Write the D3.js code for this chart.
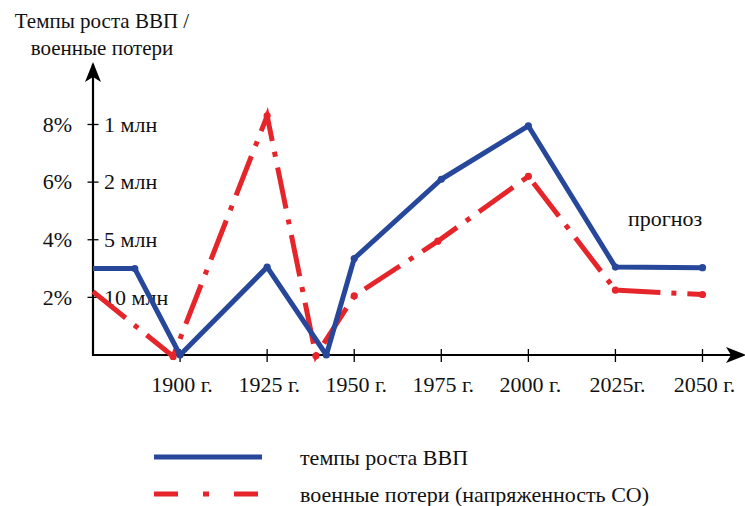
<!DOCTYPE html>
<html>
<head>
<meta charset="utf-8">
<script src="https://cdn.jsdelivr.net/npm/d3@7"></script>
<style>
  html, body { margin: 0; padding: 0; background: #fff; }
  svg { display: block; }
  text { font-family: "Liberation Serif", "Times New Roman", Times, serif; fill: #111; }
</style>
</head>
<body>
<svg id="chart" width="745" height="506"></svg>
<script>
// GDP growth rate, %
const gdpYears  = [1875, 1887, 1900, 1925, 1942, 1950, 1975, 2000, 2025, 2050];
const gdpValues = [3.0, 3.0, 0.0, 3.05, 0.0, 3.35, 6.1, 7.95, 3.05, 3.03];

// War losses (tension of the security system), plotted on the same inverted scale
const lossYears  = [1875, 1898, 1925, 1939, 1950, 1974, 2000, 2025, 2050];
const lossValues = [2.2, -0.05, 8.3, -0.03, 2.05, 3.95, 6.2, 2.25, 2.1];

// Axis ticks and labels
const xTickYears  = [1900, 1925, 1950, 1975, 2000, 2025, 2050];
const xTickLabels = ["1900 г.", "1925 г.", "1950 г.", "1975 г.", "2000 г.", "2025г.", "2050 г."];
const yTickValues = [2, 4, 6, 8];
const gdpTickLabels  = ["2%", "4%", "6%", "8%"];
const lossTickLabels = ["10 млн", "5 млн", "2 млн", "1 млн"];

const titleLines = ["Темпы роста ВВП /", "военные потери"];
const seriesNames = ["темпы роста ВВП", "военные потери (напряженность СО)"];
const forecastNote = "прогноз";

const BLUE = "#27479a";
const RED = "#e6252b";
const FONT = "'Liberation Serif', 'Times New Roman', Times, serif";

const svg = d3.select("#chart");

const x = d3.scaleLinear().domain([1875, 2050]).range([93, 702.5]);
const y = d3.scaleLinear().domain([0, 8]).range([355, 124.5]);

const x0 = x(1875), yBase = y(0);

// Axis arrow heads
svg.append("defs").append("marker")
  .attr("id", "arrow")
  .attr("viewBox", "0 0 20 16")
  .attr("refX", 18).attr("refY", 8)
  .attr("markerWidth", 20).attr("markerHeight", 16)
  .attr("markerUnits", "userSpaceOnUse")
  .attr("orient", "auto")
  .append("path")
  .attr("d", "M0,0 L20,8 L0,16 L5,8 Z")
  .attr("fill", "#000");

// Vertical axis
svg.append("line")
  .attr("x1", x0).attr("y1", yBase + 1)
  .attr("x2", x0).attr("y2", 64)
  .attr("stroke", "#000").attr("stroke-width", 2.2)
  .attr("marker-end", "url(#arrow)");

// Horizontal axis
svg.append("line")
  .attr("x1", x0 - 1).attr("y1", yBase)
  .attr("x2", 744).attr("y2", yBase)
  .attr("stroke", "#000").attr("stroke-width", 2.2)
  .attr("marker-end", "url(#arrow)");

// Y ticks crossing the axis, with both label sets
const yt = svg.append("g").selectAll("g").data(yTickValues).join("g")
  .attr("transform", d => `translate(0,${y(d)})`);
yt.append("line")
  .attr("x1", x0 - 5.5).attr("x2", x0 + 5.5)
  .attr("stroke", "#000").attr("stroke-width", 1.3);
yt.append("text")
  .attr("x", 72).attr("dy", "0.33em")
  .attr("text-anchor", "end")
  .attr("font-family", FONT)
  .attr("font-size", 22)
  .text((d, i) => gdpTickLabels[i]);
yt.append("text")
  .attr("x", 104).attr("dy", "0.33em")
  .attr("text-anchor", "start")
  .attr("font-family", FONT)
  .attr("font-size", 22)
  .text((d, i) => lossTickLabels[i]);

// X ticks
const xt = svg.append("g").selectAll("g").data(xTickYears).join("g")
  .attr("transform", d => `translate(${x(d)},0)`);
xt.append("line")
  .attr("y1", yBase - 6).attr("y2", yBase + 7)
  .attr("stroke", "#000").attr("stroke-width", 1.3);
xt.append("text")
  .attr("x", 2).attr("y", 392)
  .attr("text-anchor", "middle")
  .attr("font-family", FONT)
  .attr("font-size", 22)
  .text((d, i) => xTickLabels[i]);

// Axis title
svg.append("g").selectAll("text").data(titleLines).join("text")
  .attr("x", 102).attr("y", (d, i) => 28 + i * 27)
  .attr("text-anchor", "middle")
  .attr("font-family", FONT)
  .attr("font-size", 21)
  .text(d => d);

const line = d3.line().x(d => x(d[0])).y(d => y(d[1]));

const gdp = gdpYears.map((yr, i) => [yr, gdpValues[i]]);
const loss = lossYears.map((yr, i) => [yr, lossValues[i]]);

// War losses: dash-dot line
svg.append("path")
  .datum(loss)
  .attr("d", line)
  .attr("fill", "none")
  .attr("stroke", RED)
  .attr("stroke-width", 5)
  .attr("stroke-dasharray", "42,11,5,11")
  .attr("stroke-linejoin", "miter");
svg.append("g").selectAll("circle").data(loss.slice(1)).join("circle")
  .attr("cx", d => x(d[0])).attr("cy", d => y(d[1]))
  .attr("r", 3.6).attr("fill", RED);

// GDP growth: solid line
svg.append("path")
  .datum(gdp)
  .attr("d", line)
  .attr("fill", "none")
  .attr("stroke", BLUE)
  .attr("stroke-width", 5)
  .attr("stroke-linejoin", "round");
svg.append("g").selectAll("circle").data(gdp.slice(1)).join("circle")
  .attr("cx", d => x(d[0])).attr("cy", d => y(d[1]))
  .attr("r", 3.6).attr("fill", BLUE);

// Forecast note
svg.append("text")
  .attr("x", 628).attr("y", 226)
  .attr("font-family", FONT)
  .attr("font-size", 22)
  .text(forecastNote);

// Legend
const legend = svg.append("g");
const legendRows = [
  { name: seriesNames[0], color: BLUE, dash: null, y: 457 },
  { name: seriesNames[1], color: RED, dash: "24,25,6,25", y: 494 }
];
legendRows.forEach(r => {
  legend.append("line")
    .attr("x1", 154).attr("x2", 262)
    .attr("y1", r.y).attr("y2", r.y)
    .attr("stroke", r.color).attr("stroke-width", 5)
    .attr("stroke-dasharray", r.dash);
  legend.append("text")
    .attr("x", 300).attr("y", r.y + 8)
    .attr("font-family", FONT)
    .attr("font-size", 22)
    .text(r.name);
});
</script>
</body>
</html>
